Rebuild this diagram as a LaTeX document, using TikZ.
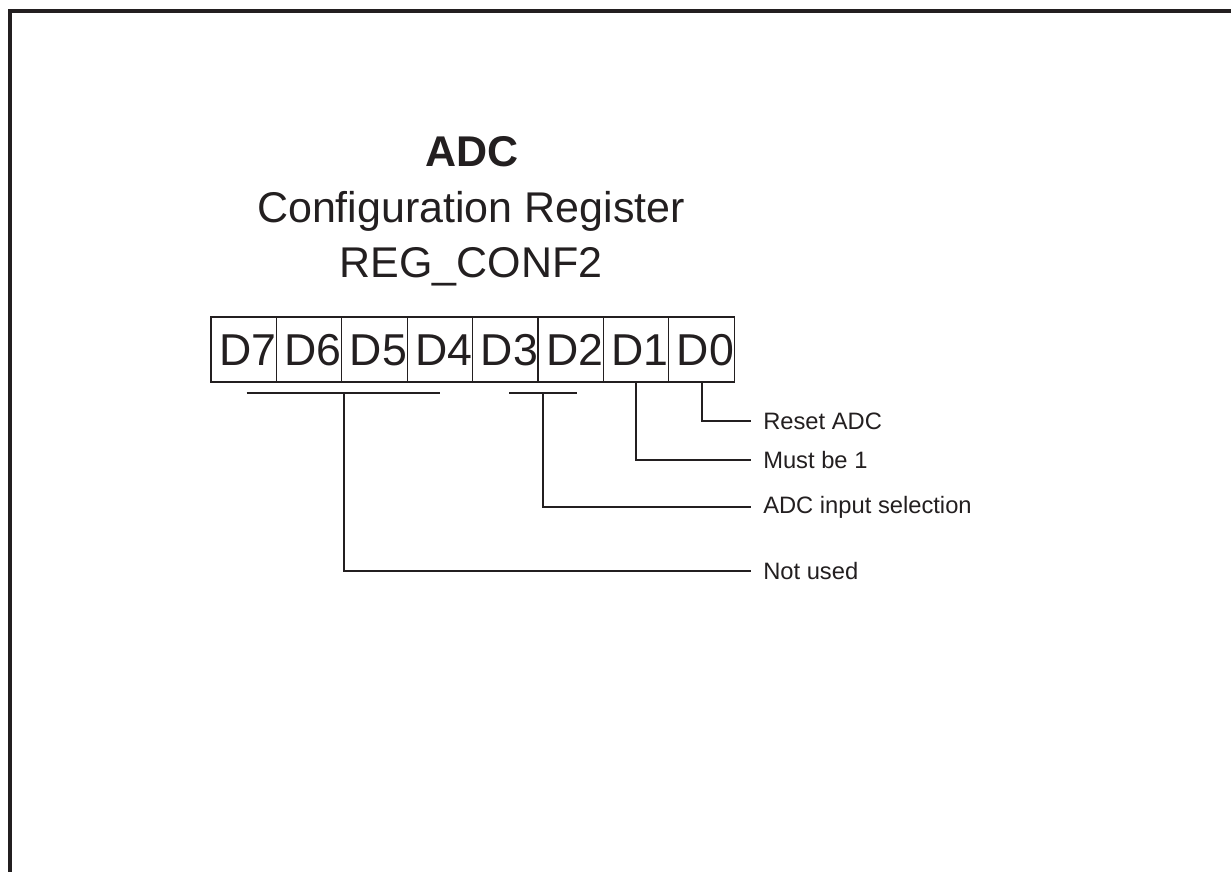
\documentclass[tikz,border=0pt]{standalone}
\usepackage{fontspec}
\setmainfont{Liberation Sans}
\usepackage{tikz}
\usetikzlibrary{calc}
\definecolor{ink}{HTML}{231F20}

\begin{document}
\begin{tikzpicture}[x=0.75pt, y=-0.75pt,
        bitcell/.style={draw=ink, line width=0.9pt, minimum width=49.05pt, minimum height=48.75pt, inner sep=0pt, text height=24pt, text depth=0pt, text=ink, font=\fontsize{33.5}{33.5}\selectfont},
        lbl/.style={anchor=west, inner xsep=9pt, inner ysep=0pt, text=ink, font=\fontsize{17.8}{17.8}\selectfont},
        wire/.style={draw=ink, line width=1.5pt}]
        \useasboundingbox (0,0) rectangle (1231,872);
        % cornice
        \draw[ink, line width=2.4pt] (1231,11) -- (10,11) -- (10,872);
        % titolo
        \node[anchor=base, text=ink, font=\bfseries\fontsize{32.25}{32.25}\selectfont] (title) at (472,166) {ADC};
        \node[anchor=base, text=ink, font=\fontsize{32.25}{32.25}\selectfont] (subtitle) at (471,222) {Configuration Register};
        \node[anchor=base, text=ink, font=\fontsize{32.25}{32.25}\selectfont] (regname) at (471,277) {REG\_CONF2};
        % registro
        \foreach \b [count=\i] in {7,6,5,4,3,2,1,0}
            \node[bitcell] (d\b) at ({178.3+65.4*\i},349.5) {\makebox[0pt]{\hspace*{6pt}D\b}};
        % descrizioni
        \node[lbl] (reset) at (751,421) {Reset ADC};
        \node[lbl] (must)  at (751,460) {Must be 1};
        \node[lbl] (input) at (751,507) {ADC input selection};
        \node[lbl] (notused) at (751,571) {Not used};
        % linee
        \draw[wire] (d0.south) |- (reset.west);
        \draw[wire] (d1.south) |- (must.west);
        \draw[wire] ($(d3.south)+(4,10)$) -- ($(d2.south)+(6,10)$);
        \coordinate (lomid) at ($(d3.south east)+(4,10)$);
        \draw[wire] (lomid) |- (input.west);
        \draw[wire] ($(d7.south)+(3,10)$) -- ($(d4.south)+(0,10)$);
        \coordinate (himid) at ($(d6.south east)+(2,10)$);
        \draw[wire] (himid) |- (notused.west);
    \end{tikzpicture}
\end{document}
